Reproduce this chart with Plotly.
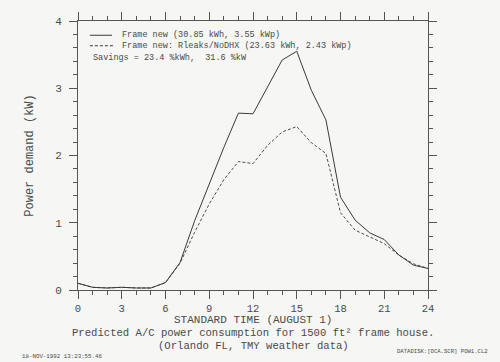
import plotly.graph_objects as go

hours = list(range(25))
frame_new = [0.10, 0.04, 0.03, 0.04, 0.03, 0.03, 0.11, 0.41, 1.03, 1.57, 2.12, 2.63, 2.62,
             3.02, 3.42, 3.55, 2.97, 2.53, 1.38, 1.04, 0.85, 0.75, 0.52, 0.37, 0.32]
frame_rleaks = [0.10, 0.04, 0.03, 0.04, 0.03, 0.03, 0.11, 0.40, 0.86, 1.28, 1.64, 1.91, 1.88,
                2.15, 2.35, 2.43, 2.19, 2.03, 1.15, 0.89, 0.79, 0.69, 0.52, 0.39, 0.32]

x_ticks = [0, 3, 6, 9, 12, 15, 18, 21, 24]
y_ticks = [0, 1, 2, 3, 4]

legend_solid = "Frame new (30.85 kWh, 3.55 kWp)"
legend_dash = "Frame new: Rleaks/NoDHX (23.63 kWh, 2.43 kWp)"
savings = "Savings = 23.4 %kWh,  31.6 %kW"
x_title = "STANDARD TIME (AUGUST 1)"
y_title = "Power demand (kW)"
title1 = "Predicted A/C power consumption for 1500 ft\u00b2 frame house."
title2 = "(Orlando FL, TMY weather data)"
stamp_left = "18-NOV-1992 13:23:55.46"
stamp_right = "DATADISK:[OCA.SCR] POW1.CL2"

FONT = "Liberation Mono"
TXT = "#4a4a4a"
LINE = "#3a3a3a"

fig = go.Figure()
fig.add_trace(go.Scatter(x=hours, y=frame_new, mode="lines",
                         line=dict(color=LINE, width=1), showlegend=False))
fig.add_trace(go.Scatter(x=hours, y=frame_rleaks, mode="lines",
                         line=dict(color=LINE, width=0.9, dash="3px,2px"), showlegend=False))

axis_common = dict(showline=True, linecolor="#555", linewidth=1, mirror="ticks",
                   ticks="outside", ticklen=8, tickcolor="#555", tickwidth=1,
                   showgrid=False, zeroline=False)

fig.update_xaxes(range=[0, 24], tickvals=x_ticks, ticktext=[str(v) for v in x_ticks],
                 minor=dict(dtick=1, ticklen=4, tickcolor="#555", ticks="outside"),
                 ticklabelstandoff=0, tickfont=dict(family=FONT, size=10.5, color=TXT),
                 **axis_common)
fig.update_yaxes(range=[0, 4], tickvals=y_ticks, ticktext=[str(v) for v in y_ticks],
                 minor=dict(dtick=0.2, ticklen=4, tickcolor="#555", ticks="outside"),
                 ticklabelstandoff=5, tickfont=dict(family=FONT, size=11, color=TXT),
                 title=dict(text=y_title, font=dict(family=FONT, size=12, color=TXT), standoff=18),
                 **axis_common)

# legend drawn manually
fig.add_shape(type="line", xref="paper", yref="paper", x0=0.034, x1=0.097, y0=0.947, y1=0.947,
              line=dict(color=LINE, width=1))
fig.add_shape(type="line", xref="paper", yref="paper", x0=0.034, x1=0.100, y0=0.908, y1=0.908,
              line=dict(color=LINE, width=1, dash="3px,2px"))

ann = [
    dict(text=legend_solid, x=0.12, y=0.947, xanchor="left", yanchor="middle", size=8.5),
    dict(text=legend_dash, x=0.12, y=0.908, xanchor="left", yanchor="middle", size=8.5),
    dict(text=savings, x=0.037, y=0.864, xanchor="left", yanchor="middle", size=8.5),
    dict(text=x_title, x=0.5, y=-0.110, xanchor="center", yanchor="middle", size=11),
    dict(text=title1, x=0.5, y=-0.158, xanchor="center", yanchor="middle", size=10.6),
    dict(text=title2, x=0.5, y=-0.210, xanchor="center", yanchor="middle", size=10.6),
    dict(text=stamp_left, x=-0.166, y=-0.246, xanchor="left", yanchor="middle", size=5.8),
    dict(text=stamp_right, x=0.906, y=-0.230, xanchor="left", yanchor="middle", size=5.6),
]
for a in ann:
    fig.add_annotation(text=a["text"], x=a["x"], y=a["y"], xref="paper", yref="paper",
                       xanchor=a["xanchor"], yanchor=a["yanchor"], showarrow=False,
                       font=dict(family=FONT, size=a["size"], color=TXT))

fig.update_layout(width=500, height=362,
                  margin=dict(l=78, r=72, t=18, b=72),
                  paper_bgcolor="#f6f6f4", plot_bgcolor="#f6f6f4",
                  showlegend=False)

fig.write_html("out.html", config={"displayModeBar": False},
               post_script="document.body.style.margin='0';document.body.style.background='#f6f6f4';")
